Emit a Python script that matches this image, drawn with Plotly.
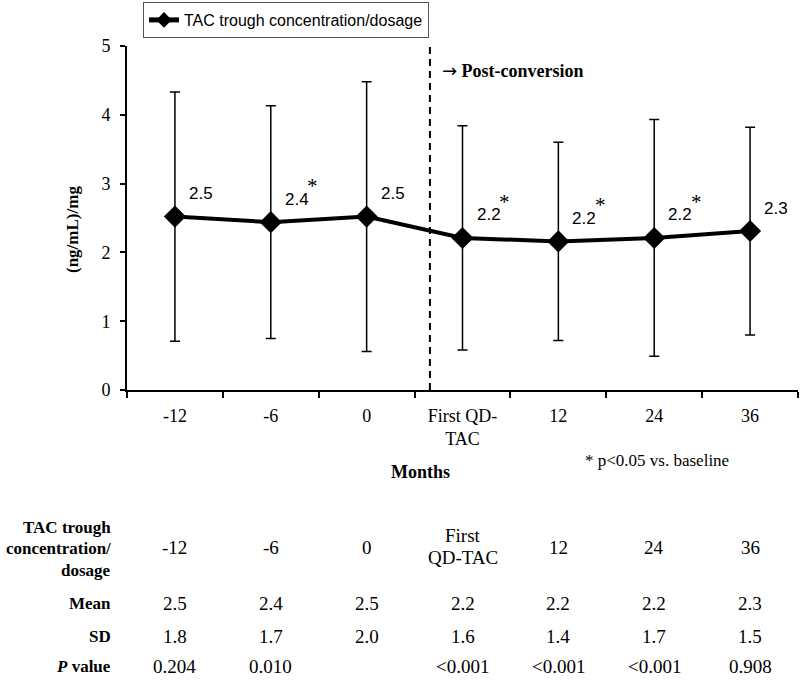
import plotly.graph_objects as go

# ---- data ----
categories = ["-12", "-6", "0", "First QD-TAC", "12", "24", "36"]
tick_labels = ["-12", "-6", "0", "First QD-<br>TAC", "12", "24", "36"]
table_headers = ["-12", "-6", "0", "First<br>QD-TAC", "12", "24", "36"]
mean_values = [2.52, 2.44, 2.52, 2.21, 2.16, 2.21, 2.31]
sd_values = [1.81, 1.69, 1.96, 1.63, 1.44, 1.72, 1.51]
p_values = ["0.204", "0.010", "", "<0.001", "<0.001", "<0.001", "0.908"]
series_name = "TAC trough concentration/dosage"
conversion_pos = 2.66  # category index of conversion line

SERIF = "Liberation Serif, Times New Roman, serif"
SANS = "Liberation Sans, Arial, sans-serif"

W, H = 800, 680
M_L, M_R, M_T, M_B = 127, 2, 46, 290
PH = H - M_T - M_B


def ypaper(ypix):
    return (H - M_B - ypix) / PH


def xpaper(xpix):
    return (xpix - M_L) / (W - M_L - M_R)


def significant(p):
    if p == "":
        return False
    if p.startswith("<"):
        return True
    return float(p) < 0.05


idx = list(range(len(categories)))

fig = go.Figure()
fig.add_trace(go.Scatter(
    x=idx, y=mean_values, name=series_name,
    mode="lines+markers",
    line=dict(color="black", width=4),
    marker=dict(symbol="diamond", size=17, color="black"),
    error_y=dict(type="data", array=sd_values, visible=True,
                 color="black", thickness=1.5, width=5),
    showlegend=True,
))

annotations = []
# data labels
for i, m, p in zip(idx, mean_values, p_values):
    annotations.append(dict(x=i, y=m, xref="x", yref="y", text=f"{m:.1f}",
                            showarrow=False, xshift=26, yshift=23,
                            font=dict(family=SANS, size=17, color="black")))
    if significant(p):
        annotations.append(dict(x=i, y=m, xref="x", yref="y", text="*",
                                showarrow=False, xshift=42, yshift=36,
                                font=dict(family=SERIF, size=21, color="black")))

# post-conversion text
annotations.append(dict(x=xpaper(440), y=ypaper(70), xref="paper", yref="paper",
                        text="<span style='font-family:DejaVu Sans'>→</span> <b>Post-conversion</b>",
                        showarrow=False, xanchor="left", yanchor="middle",
                        font=dict(family=SERIF, size=18, color="black")))
# footnote
annotations.append(dict(x=xpaper(583), y=ypaper(460), xref="paper", yref="paper",
                        text="* p<0.05 vs. baseline", showarrow=False,
                        xanchor="left", yanchor="middle",
                        font=dict(family=SERIF, size=17, color="black")))
# x title
annotations.append(dict(x=xpaper(420), y=ypaper(472), xref="paper", yref="paper",
                        text="<b>Months</b>", showarrow=False,
                        xanchor="center", yanchor="middle",
                        font=dict(family=SERIF, size=18, color="black")))
# y title
annotations.append(dict(x=xpaper(72), y=ypaper(230), xref="paper", yref="paper",
                        text="<b>(ng/mL)/mg</b>", showarrow=False, textangle=-90,
                        xanchor="center", yanchor="middle",
                        font=dict(family=SERIF, size=17, color="black")))

ROW_HDR, ROW_MEAN, ROW_SD, ROW_P = 547, 603, 636, 666

# table row labels
row_label_lines = [("<b>TAC trough</b>", 527), ("<b>concentration/</b>", 548),
                   ("<b>dosage</b>", 570), ("<b>Mean</b>", ROW_MEAN), ("<b>SD</b>", ROW_SD),
                   ("<b><i>P</i> value</b>", ROW_P)]
for txt, yp in row_label_lines:
    annotations.append(dict(x=xpaper(113), y=ypaper(yp), xref="paper", yref="paper",
                            text=txt, showarrow=False, xanchor="right", yanchor="middle",
                            font=dict(family=SERIF, size=17, color="black")))

TF = dict(family=SERIF, size=19, color="black")
for i, hdr, m, s, p in zip(idx, table_headers, mean_values, sd_values, p_values):
    parts = hdr.split("<br>")
    if len(parts) == 1:
        annotations.append(dict(x=i, y=ypaper(ROW_HDR), xref="x", yref="paper", text=parts[0],
                                showarrow=False, yanchor="middle", font=TF))
    else:
        for k, part in enumerate(parts):
            annotations.append(dict(x=i, y=ypaper(535 + 22 * k), xref="x", yref="paper",
                                    text=part, showarrow=False, yanchor="middle", font=TF))
    annotations.append(dict(x=i, y=ypaper(ROW_MEAN), xref="x", yref="paper", text=f"{m:.1f}",
                            showarrow=False, yanchor="middle", font=TF))
    annotations.append(dict(x=i, y=ypaper(ROW_SD), xref="x", yref="paper", text=f"{s:.1f}",
                            showarrow=False, yanchor="middle", font=TF))
    if p:
        annotations.append(dict(x=i, y=ypaper(ROW_P), xref="x", yref="paper", text=p,
                                showarrow=False, yanchor="middle", font=TF))

fig.add_shape(type="line", xref="x", yref="y", x0=conversion_pos, x1=conversion_pos,
              y0=0, y1=5, line=dict(color="black", width=2, dash="7px,5px"))

fig.update_layout(
    width=W, height=H,
    margin=dict(l=M_L, r=M_R, t=M_T, b=M_B),
    paper_bgcolor="white", plot_bgcolor="white",
    annotations=annotations,
    legend=dict(x=xpaper(143), y=ypaper(2), xanchor="left", yanchor="top",
                bordercolor="#555555", borderwidth=1, bgcolor="white",
                itemsizing="constant",
                font=dict(family=SANS, size=16, color="black")),
    xaxis=dict(tickmode="array", tickvals=idx, ticktext=tick_labels,
               range=[-0.5, len(categories) - 0.5],
               showline=True, linecolor="black", linewidth=2,
               ticks="", showgrid=False, zeroline=False,
               minor=dict(tickmode="array",
                          tickvals=[i - 0.5 for i in idx] + [len(idx) - 0.5],
                          ticks="outside", ticklen=6, tickwidth=2, tickcolor="black",
                          showgrid=False),
               ticklabelstandoff=8,
               tickfont=dict(family=SERIF, size=18, color="black")),
    yaxis=dict(range=[0, 5], dtick=1, tick0=0,
               showline=True, linecolor="black", linewidth=2,
               ticks="outside", ticklen=5, tickwidth=2, tickcolor="black",
               showgrid=False, zeroline=False,
               ticklabelstandoff=6,
               tickfont=dict(family=SERIF, size=18, color="black")),
)

fig.write_html("out.html", config={"displayModeBar": False},
               post_script="document.body.style.margin='0';")
